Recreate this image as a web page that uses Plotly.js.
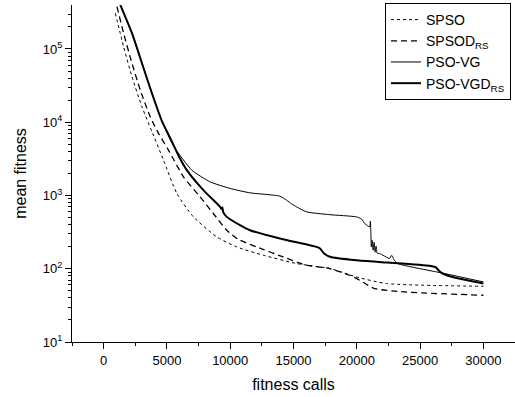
<!DOCTYPE html>
<html>
<head>
<meta charset="utf-8">
<script src="https://cdn.plot.ly/plotly-3.0.1.min.js"></script>
<style>html,body{margin:0;padding:0;background:#fff;}#chart{width:515px;height:397px;}</style>
</head>
<body>
<div id="chart"></div>
<script>
// Series: x = fitness calls, y = log10(mean fitness)
const spsoX = [922, 1576, 2238, 3026, 3814, 4728, 5784, 7092, 8936, 10512, 12608, 15240, 17865, 19968, 22348, 30000];
const spsoL = [5.488, 5.031, 4.621, 4.211, 3.873, 3.483, 3.028, 2.708, 2.435, 2.298, 2.185, 2.071, 2.003, 1.888, 1.798, 1.761];

const spsodX = [1056, 1576, 2238, 2892, 3680, 4334, 5122, 6304, 7620, 8668, 9724, 10614, 12088, 14184, 16028, 17865, 19441, 20229, 21411, 23775, 30000];
const spsodL = [5.578, 5.215, 4.805, 4.440, 4.075, 3.848, 3.620, 3.255, 2.981, 2.754, 2.526, 2.403, 2.298, 2.161, 2.048, 2.003, 1.911, 1.843, 1.730, 1.683, 1.638];

const vgX = [1316, 2238, 3026, 3814, 4570, 5571, 6966, 8408, 9984, 11560, 13396, 13924, 14452, 14870, 15240, 16028, 17865, 19968, 20386, 20622, 21018, 21071, 21111, 21150, 21213, 21292, 21370, 21449, 21528, 21607, 21804, 22592, 22710, 22828, 22907, 23246, 26926, 30000];
const vgL = [5.601, 5.215, 4.805, 4.395, 4.030, 3.660, 3.346, 3.186, 3.096, 3.036, 3.005, 2.991, 2.936, 2.882, 2.845, 2.776, 2.738, 2.708, 2.677, 2.618, 2.571, 2.649, 2.499, 2.298, 2.390, 2.253, 2.362, 2.226, 2.308, 2.212, 2.208, 2.140, 2.178, 2.171, 2.130, 2.071, 1.935, 1.820];

const vgdX = [1316, 2238, 3026, 3814, 4570, 5453, 5910, 6572, 7880, 9196, 9314, 9377, 9456, 9724, 10772, 11560, 13924, 16816, 17076, 17392, 17865, 19968, 22434, 25744, 26216, 26532, 26792, 27714, 30000];
const vgdL = [5.601, 5.215, 4.805, 4.395, 4.030, 3.715, 3.546, 3.346, 3.073, 2.845, 2.812, 2.838, 2.769, 2.708, 2.595, 2.526, 2.413, 2.298, 2.280, 2.212, 2.164, 2.116, 2.085, 2.041, 2.021, 1.966, 1.935, 1.880, 1.798];

const names = ['SPSO', 'SPSOD<sub>RS</sub>', 'PSO-VG', 'PSO-VGD<sub>RS</sub>'];
const xTickVals = [0, 5000, 10000, 15000, 20000, 25000, 30000];
const yExps = [1, 2, 3, 4, 5];

const pow = a => a.map(v => Math.pow(10, v));
const yMinor = [];
for (let e = 1; e <= 5; e++) for (let d = 2; d <= 9; d++) if (Math.log10(d) + e <= 5.6) yMinor.push(d * Math.pow(10, e));

const traces = [
  {x: spsoX, y: pow(spsoL), name: names[0], mode: 'lines', line: {color: '#000', width: 1, dash: 'dot', shape: 'spline', smoothing: 0.6}},
  {x: spsodX, y: pow(spsodL), name: names[1], mode: 'lines', line: {color: '#000', width: 1.3, dash: '6px,4px', shape: 'spline', smoothing: 0.6}},
  {x: vgX, y: pow(vgL), name: names[2], mode: 'lines', line: {color: '#000', width: 1, shape: 'spline', smoothing: 0.5}},
  {x: vgdX, y: pow(vgdL), name: names[3], mode: 'lines', line: {color: '#000', width: 2, shape: 'spline', smoothing: 0.5}}
];

const layout = {
  width: 515, height: 397,
  margin: {l: 72, r: 0, t: 5, b: 55},
  paper_bgcolor: '#fff', plot_bgcolor: '#fff',
  font: {family: 'Liberation Sans, Arial, sans-serif', color: '#000', size: 13},
  showlegend: true,
  legend: {
    x: 0.991, xanchor: 'right', y: 1.006, yanchor: 'top',
    bordercolor: '#000', borderwidth: 1, bgcolor: '#fff',
    font: {size: 14, color: '#000'}, itemwidth: 30, tracegroupgap: 0
  },
  xaxis: {
    range: [-2500, 32500], tickvals: xTickVals, ticktext: xTickVals.map(String),
    showgrid: false, zeroline: false, showline: true, linecolor: '#000', linewidth: 1,
    ticks: 'outside', ticklen: 6, tickcolor: '#000',
    minor: {tickvals: [-2500, 2500, 7500, 12500, 17500, 22500, 27500, 32500], ticks: 'outside', ticklen: 3, tickcolor: '#000', tickwidth: 1, showgrid: false},
    title: {text: 'fitness calls', font: {size: 16}, standoff: 12},
    automargin: false
  },
  yaxis: {
    type: 'log', range: [1, 5.6],
    tickvals: yExps.map(e => Math.pow(10, e)),
    ticktext: yExps.map(e => '10<sup>' + e + '</sup>'),
    showgrid: false, zeroline: false, showline: true, linecolor: '#000', linewidth: 1,
    ticks: 'outside', ticklen: 6, tickcolor: '#000',
    minor: {tickvals: yMinor, ticks: 'outside', ticklen: 3, tickcolor: '#000', tickwidth: 1, showgrid: false},
    title: {text: 'mean fitness', font: {size: 16}, standoff: 12},
    automargin: false
  }
};

Plotly.newPlot('chart', traces, layout, {displayModeBar: false, staticPlot: true});
</script>
</body>
</html>
